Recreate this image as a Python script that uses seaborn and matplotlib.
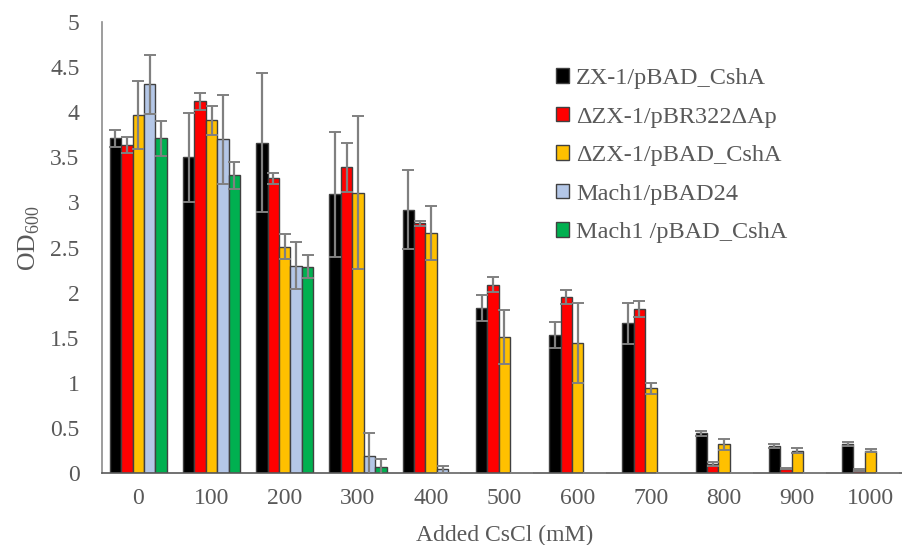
import numpy as np
import pandas as pd
import matplotlib
matplotlib.use("Agg")
import matplotlib.pyplot as plt
import seaborn as sns

# data
conc = ["0", "100", "200", "300", "400", "500", "600", "700", "800", "900", "1000"]
strains = ["ZX-1/pBAD_CshA", "\u0394ZX-1/pBR322\u0394Ap", "\u0394ZX-1/pBAD_CshA",
           "Mach1/pBAD24", "Mach1 /pBAD_CshA"]
colors = ["#000000", "#FF0000", "#FFC000", "#B4C7E7", "#00B050"]

zx1_csha = [3.71, 3.50, 3.66, 3.09, 2.92, 1.83, 1.53, 1.66, 0.44, 0.30, 0.32]
dzx1_pbr = [3.64, 4.12, 3.27, 3.39, 2.77, 2.09, 1.95, 1.82, 0.10, 0.05, 0.03]
dzx1_csha = [3.97, 3.91, 2.51, 3.11, 2.66, 1.51, 1.44, 0.94, 0.32, 0.25, 0.25]
mach1_pbad = [4.31, 3.70, 2.30, 0.19, 0.04, 0.005, 0, 0, 0, 0, 0]
mach1_csha = [3.71, 3.30, 2.29, 0.07, 0.003, 0.004, 0, 0, 0, 0, 0]

zx1_csha_err = [0.09, 0.49, 0.77, 0.69, 0.44, 0.14, 0.14, 0.23, 0.03, 0.02, 0.02]
dzx1_pbr_err = [0.09, 0.09, 0.06, 0.27, 0.03, 0.08, 0.08, 0.09, 0.02, 0.01, 0.01]
dzx1_csha_err = [0.38, 0.16, 0.14, 0.85, 0.30, 0.30, 0.44, 0.06, 0.06, 0.03, 0.02]
mach1_pbad_err = [0.33, 0.49, 0.26, 0.25, 0.04, 0, 0, 0, 0, 0, 0]
mach1_csha_err = [0.19, 0.15, 0.13, 0.09, 0, 0, 0, 0, 0, 0, 0]

values = [zx1_csha, dzx1_pbr, dzx1_csha, mach1_pbad, mach1_csha]
errors = [zx1_csha_err, dzx1_pbr_err, dzx1_csha_err, mach1_pbad_err, mach1_csha_err]

rows = []
for s, vals in zip(strains, values):
    for c, v in zip(conc, vals):
        rows.append({"conc": c, "strain": s, "od": v})
df = pd.DataFrame(rows)

sns.set_style("white")
plt.rcParams["font.family"] = ["Liberation Serif", "DejaVu Serif"]
plt.rcParams["mathtext.fontset"] = "custom"
plt.rcParams["mathtext.rm"] = "Liberation Serif"
txt = "#595959"

fig = plt.figure(figsize=(9.03, 5.45), dpi=100)
ax = fig.add_axes([0.1126, 0.132, 0.892, 0.8275])

sns.barplot(data=df, x="conc", y="od", hue="strain", order=conc, hue_order=strains,
            palette=colors, saturation=1, width=0.78, edgecolor="#404040", linewidth=1.0,
            errorbar=None, ax=ax)

# error bars placed at the bar centres seaborn produced
for cont, err in zip(ax.containers, errors):
    xs = [p.get_x() + p.get_width() / 2 for p in cont.patches]
    hs = [p.get_height() for p in cont.patches]
    ax.errorbar(xs, hs, yerr=err, fmt="none", ecolor="#808080", elinewidth=1.6,
                capsize=4, capthick=1.4, zorder=5)

ax.set_xlim(-0.5, 10.5)
ax.set_ylim(0, 5)
ax.set_yticks(np.arange(0, 5.01, 0.5))
ax.set_yticklabels(["0", "0.5", "1", "1.5", "2", "2.5", "3", "3.5", "4", "4.5", "5"])
ax.tick_params(axis="both", length=0, labelsize=17, colors=txt)
ax.tick_params(axis="x", pad=11)
ax.tick_params(axis="y", pad=16)
ax.set_xlabel("Added CsCl (mM)", fontsize=17, color=txt, labelpad=11)
ax.set_ylabel("OD$_{600}$", fontsize=18.5, color=txt)
ax.yaxis.set_label_coords(-0.074, 0.52)

for side in ["top", "right"]:
    ax.spines[side].set_visible(False)
ax.spines["left"].set_color("#8c8c8c")
ax.spines["bottom"].set_color("#595959")
ax.spines["left"].set_linewidth(1.2)
ax.spines["bottom"].set_linewidth(1.2)

leg = ax.legend(loc="upper left", bbox_to_anchor=(0.6045, 0.893), bbox_transform=fig.transFigure,
                frameon=False, fontsize=17.5, handlelength=0.55, handleheight=0.55,
                handletextpad=0.3, labelspacing=0.72, borderaxespad=0)
for t in leg.get_texts():
    t.set_color(txt)

fig.savefig("out.png", dpi=100)
